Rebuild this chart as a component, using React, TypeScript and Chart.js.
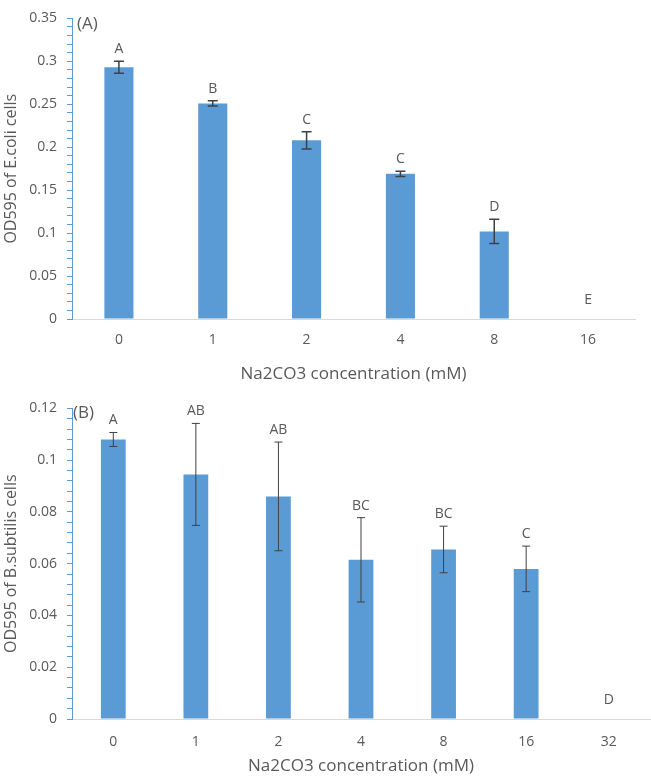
import React, { useEffect, useRef } from 'react';
import { Chart, registerables } from 'chart.js';

Chart.register(...registerables);

// ---- Data: panel (A) E. coli ----
const categoriesA = ['0', '1', '2', '4', '8', '16'];
const valuesA = [0.293, 0.251, 0.208, 0.169, 0.102, 0];
const errorsA = [0.007, 0.003, 0.010, 0.003, 0.014, 0];
const lettersA = ['A', 'B', 'C', 'C', 'D', 'E'];

// ---- Data: panel (B) B. subtilis ----
const categoriesB = ['0', '1', '2', '4', '8', '16', '32'];
const valuesB = [0.108, 0.0945, 0.086, 0.0615, 0.0655, 0.058, 0];
const errorsB = [0.0027, 0.0197, 0.021, 0.0163, 0.009, 0.0088, 0];
const lettersB = ['A', 'AB', 'AB', 'BC', 'BC', 'C', 'D'];

const BLUE = '#5B9BD5';
const TEXT = '#595959';
const ERR = '#404040';
const FONT = "'Open Sans', sans-serif";

type PanelCfg = {
  categories: string[];
  values: number[];
  errors: number[];
  letters: string[];
  yMax: number;
  major: number;
  minor: number;
  yTitle: string;
  panel: string;
  padTop: number;
  padRight: number;
  xHeight: number;
  barPct: number;
  capW: number;
  errLW: number;
  panelDx: number;
  panelDy: number;
  titleBottom: number;
  tickPad: number;
};

const annotPlugin = (cfg: PanelCfg) => ({
  id: 'annot',
  afterDatasetsDraw(chart: any) {
    const ctx = chart.ctx;
    const y = chart.scales.y;
    const meta = chart.getDatasetMeta(0);
    ctx.save();
    meta.data.forEach((bar: any, i: number) => {
      const v = cfg.values[i];
      const e = cfg.errors[i];
      const cx = bar.x;
      const yt = y.getPixelForValue(v + e);
      const yb = y.getPixelForValue(v - e);
      if (e > 0) {
        ctx.strokeStyle = ERR;
        ctx.lineWidth = cfg.errLW;
        ctx.beginPath();
        ctx.moveTo(cx, yt);
        ctx.lineTo(cx, yb);
        ctx.moveTo(cx - cfg.capW / 2, yt);
        ctx.lineTo(cx + cfg.capW / 2, yt);
        ctx.moveTo(cx - cfg.capW / 2, yb);
        ctx.lineTo(cx + cfg.capW / 2, yb);
        ctx.stroke();
      }
      ctx.fillStyle = TEXT;
      ctx.font = `14px ${FONT}`;
      ctx.textAlign = 'center';
      ctx.textBaseline = 'middle';
      const ly = v > 0 ? yt - 12 : yt - 19;
      ctx.fillText(cfg.letters[i], cx, ly);
    });
    const area = chart.chartArea;
    ctx.fillStyle = TEXT;
    ctx.font = `17px ${FONT}`;
    ctx.textAlign = 'left';
    ctx.textBaseline = 'middle';
    ctx.fillText(cfg.panel, area.left + cfg.panelDx, area.top + cfg.panelDy);
    ctx.restore();
  },
});

function makeChart(canvas: HTMLCanvasElement, cfg: PanelCfg) {
  return new Chart(canvas, {
    type: 'bar',
    data: {
      labels: cfg.categories,
      datasets: [
        {
          data: cfg.values,
          backgroundColor: BLUE,
          borderWidth: 0,
          categoryPercentage: 1,
          barPercentage: cfg.barPct,
        },
      ],
    },
    options: {
      responsive: false,
      animation: false,
      layout: { padding: { top: cfg.padTop, right: cfg.padRight, left: 0, bottom: 0 } },
      plugins: { legend: { display: false }, tooltip: { enabled: false } },
      scales: {
        x: {
          afterFit: (s: any) => {
            s.height = cfg.xHeight;
          },
          border: { display: true, color: '#D9D9D9', width: 1 },
          grid: { display: false, drawTicks: false },
          ticks: { color: TEXT, font: { family: FONT, size: 14 }, padding: cfg.tickPad, maxRotation: 0 },
          title: {
            display: true,
            text: 'Na2CO3 concentration (mM)',
            color: TEXT,
            font: { family: FONT, size: 17 },
            padding: { top: 0, bottom: cfg.titleBottom },
          },
        },
        y: {
          min: 0,
          max: cfg.yMax,
          afterFit: (s: any) => {
            s.width = 72;
          },
          border: { display: true, color: BLUE, width: 1 },
          grid: { drawOnChartArea: false, drawTicks: true, tickLength: 5, color: BLUE },
          ticks: {
            stepSize: cfg.minor,
            autoSkip: false,
            padding: 10,
            color: TEXT,
            font: { family: FONT, size: 14 },
            callback: (v: any) => {
              const r = Number(v) / cfg.major;
              return Math.abs(r - Math.round(r)) < 1e-6 ? String(parseFloat(Number(v).toFixed(3))) : '';
            },
          },
          title: {
            display: true,
            text: cfg.yTitle,
            color: TEXT,
            font: { family: FONT, size: 16 },
            padding: { top: 2, bottom: 0 },
          },
        },
      },
    },
    plugins: [annotPlugin(cfg)],
  } as any);
}

const cfgA: PanelCfg = {
  categories: categoriesA,
  values: valuesA,
  errors: errorsA,
  letters: lettersA,
  yMax: 0.35,
  major: 0.05,
  minor: 0.01,
  yTitle: 'OD595 of E.coli cells',
  panel: '(A)',
  padTop: 8,
  padRight: 16,
  xHeight: 71,
  barPct: 0.31,
  capW: 10,
  errLW: 1.5,
  panelDx: 5,
  panelDy: 6,
  titleBottom: 6,
  tickPad: 13,
};

const cfgB: PanelCfg = {
  categories: categoriesB,
  values: valuesB,
  errors: errorsB,
  letters: lettersB,
  yMax: 0.12,
  major: 0.02,
  minor: 0.004,
  yTitle: 'OD595 of B.subtilis cells',
  panel: '(B)',
  padTop: 18,
  padRight: 1,
  xHeight: 62,
  barPct: 0.3,
  capW: 8,
  errLW: 1,
  panelDx: 1,
  panelDy: 5,
  titleBottom: 5,
  tickPad: 15,
};

export default function App() {
  const refA = useRef<HTMLCanvasElement>(null);
  const refB = useRef<HTMLCanvasElement>(null);

  useEffect(() => {
    const a = makeChart(refA.current!, cfgA);
    const b = makeChart(refB.current!, cfgB);
    return () => {
      a.destroy();
      b.destroy();
    };
  }, []);

  return (
    <div style={{ position: 'absolute', left: 0, top: 0, width: 651, height: 781, background: '#fff' }}>
      <canvas ref={refA} width={651} height={390} style={{ position: 'absolute', left: 0, top: 0 }} />
      <canvas ref={refB} width={651} height={391} style={{ position: 'absolute', left: 0, top: 390 }} />
    </div>
  );
}
